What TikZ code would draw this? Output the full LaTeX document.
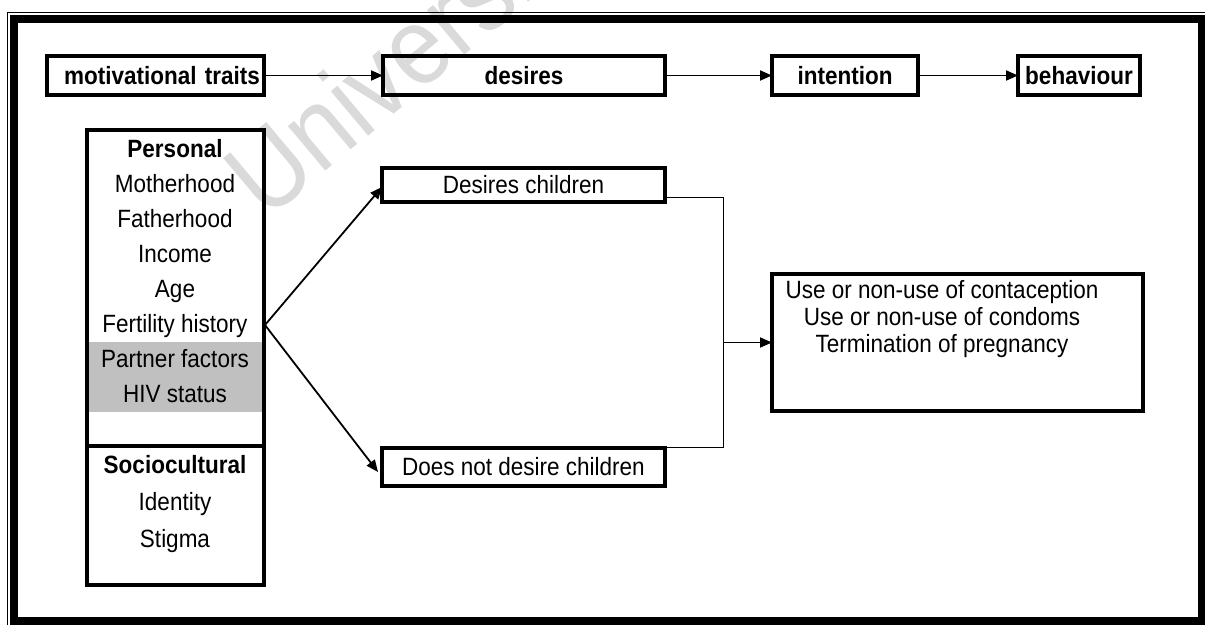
\documentclass[tikz,border=0pt]{standalone}
\usepackage{fontspec}
\setmainfont[FakeStretch=0.9]{Liberation Sans}
\usetikzlibrary{arrows.meta,calc}

\definecolor{bandgray}{HTML}{C0C0C0}
\definecolor{wmgray}{HTML}{DADADA}

\tikzset{
  box/.style={draw, line width=4pt, inner sep=0pt, outer sep=0pt},
  toptext/.style={font=\bfseries\fontsize{25}{30}\selectfont},
  bodytext/.style={font=\fontsize{25}{30}\selectfont, inner sep=0pt, anchor=base},
  flow/.style={line width=1.8pt, -{Triangle[length=12pt,width=10pt]}},
  branch/.style={line width=1.8pt, -{Triangle[length=12pt,width=10pt]}},
  bracket/.style={line width=1pt},
}

\begin{document}
\begin{tikzpicture}[x=1pt,y=-1pt]
\useasboundingbox (0,0) rectangle (1205,624);
\clip (0,0) rectangle (1205,624);

% faint watermark behind the diagram
\node[text=wmgray, font=\fontsize{110}{110}\selectfont, rotate=40, anchor=base west, inner sep=0pt]
  (wm) at (266,222) {University of Cape Town};

% page frame: thin outer rule and thick inner rule
\draw[line width=1.3pt] (7.5,700) -- (7.5,12.5) -- (1300,12.5);
\draw[line width=8.5pt] (13.8,18.9) rectangle (1202,621.5);

% top row
\node[box, minimum width=217pt, minimum height=39pt, text width=209pt, align=right, toptext]
  (mot) at (155.5,75.5) {motivational traits};
\node[box, minimum width=282pt, minimum height=39pt, toptext] (des) at (524,75.5) {desires};
\node[box, minimum width=146pt, minimum height=39pt, toptext] (int) at (845,75.5) {intention};
\node[box, minimum width=122pt, minimum height=39pt, toptext] (beh) at (1079,75.5) {behaviour};

\draw[flow] (mot.east) -- (des.west);
\draw[flow] (des.east) -- (int.west);
\draw[flow] (int.east) -- (beh.west);

% motivational traits column
\fill[bandgray] (88,342) rectangle (262,412);
\node[box, minimum width=177pt, minimum height=316pt] (pers) at (175.5,288) {};
\node[box, minimum width=177pt, minimum height=139pt] (soc) at (175.5,515.5) {};

\node[bodytext, font=\bfseries\fontsize{25}{30}\selectfont] (p0) at (175,157) {Personal};
\node[bodytext] (p1) at (175,192) {Motherhood};
\node[bodytext] (p2) at (175,227) {Fatherhood};
\node[bodytext] (p3) at (175,262) {Income};
\node[bodytext] (p4) at (175,297) {Age};
\node[bodytext] (p5) at (175,332) {Fertility history};
\node[bodytext] (p6) at (175,367) {Partner factors};
\node[bodytext] (p7) at (175,402) {HIV status};

\node[bodytext, font=\bfseries\fontsize{25}{30}\selectfont] (s0) at (175,473) {Sociocultural};
\node[bodytext] (s1) at (175,510) {Identity};
\node[bodytext] (s2) at (175,547) {Stigma};

% desires
\node[box, minimum width=283pt, minimum height=34pt] (dc) at (523.5,185) {};
\node[bodytext] (dct) at (523.5,193) {Desires children};
\node[box, minimum width=283pt, minimum height=38pt] (dn) at (523.5,467) {};
\node[bodytext] (dnt) at (523.5,475) {Does not desire children};

\coordinate (fork) at (265,325);
\draw[branch] (fork) -- ($(dc.west)+(0,2)$);
\draw[branch] (fork) -- ($(dn.west)+(-4,5)$);

% behaviour outcomes
\node[box, minimum width=371pt, minimum height=137pt] (out) at (957.5,342.5) {};
\node[bodytext] (o1) at (942,298) {Use or non-use of contaception};
\node[bodytext] (o2) at (942,325) {Use or non-use of condoms};
\node[bodytext] (o3) at (942,352) {Termination of pregnancy};

\coordinate (bt) at (723,197);
\coordinate (bb) at (723,447);
\draw[bracket] (dc.east |- bt) -- (bt) -- (bb) -- ($(dn.north east)+(0,-1)$);
\draw[flow] (bt |- out.west) -- (out.west);
\end{tikzpicture}
\end{document}
